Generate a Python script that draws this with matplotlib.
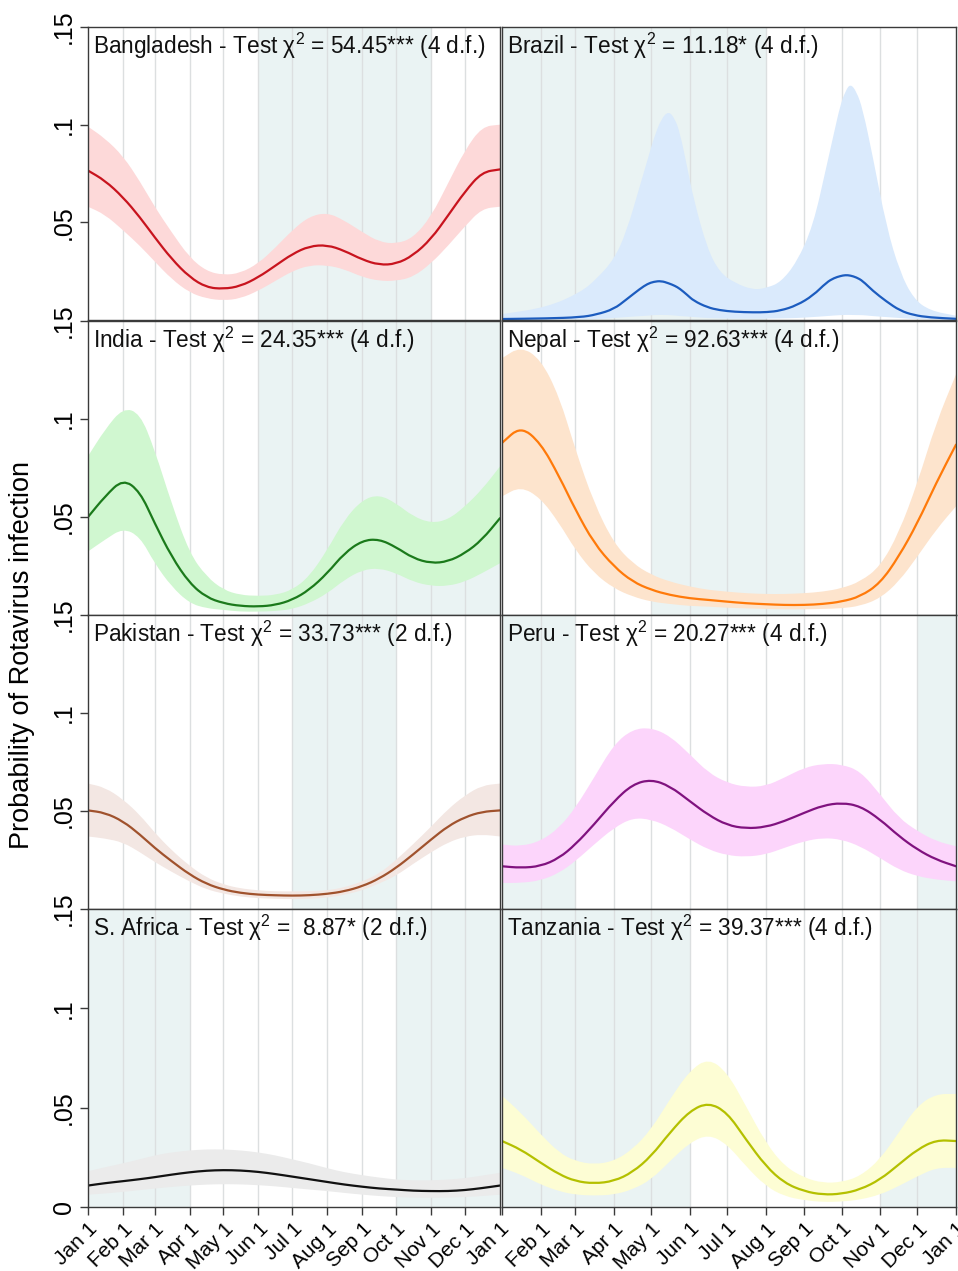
import matplotlib
matplotlib.use("Agg")
import matplotlib.pyplot as plt
from matplotlib.path import Path
from matplotlib.patches import PathPatch
import numpy as np

plt.rcParams['font.family'] = ['Liberation Sans', 'DejaVu Sans']
plt.rcParams['mathtext.fontset'] = 'custom'
plt.rcParams['mathtext.rm'] = 'Liberation Sans'
plt.rcParams['mathtext.it'] = 'Liberation Sans:italic'

# ---------------- data ----------------
month_days = [0, 31, 59, 90, 120, 151, 181, 212, 243, 273, 304, 334, 365]
month_labels = ["Jan 1", "Feb 1", "Mar 1", "Apr 1", "May 1", "Jun 1", "Jul 1",
                "Aug 1", "Sep 1", "Oct 1", "Nov 1", "Dec 1", "Jan 1"]

days = [0, 15, 31, 46, 59, 74, 90, 105, 120, 135, 151, 166, 181, 196, 212, 227,
        243, 258, 273, 288, 304, 319, 334, 349, 365]

bangladesh_mid = [.0765, .0714, .0629, .0526, .0424, .0313, .0219, .0167, .0159, .0173, .0219, .0278, .0338,
                  .0378, .0384, .0355, .0309, .0282, .0287, .0330, .0415, .0535, .0658, .0757, .0771]
bangladesh_hi = [.099, .093, .084, .071, .058, .045, .032, .025, .023, .024, .029, .037, .046, .053, .055,
                 .051, .045, .040, .039, .042, .053, .070, .087, .099, .100]
bangladesh_lo = [.058, .054, .046, .038, .030, .021, .014, .011, .010, .011, .015, .020, .025, .028, .028,
                 .026, .022, .020, .020, .022, .029, .038, .048, .057, .058]

brazil_days = [0, 36, 63, 76, 90, 100, 111, 117, 122, 128, 134, 139, 143, 149, 154, 165, 175, 187, 202,
               213, 224, 237, 250, 261, 267, 272, 276, 280, 285, 290, 298, 309, 320, 331, 344, 365]
brazil_mid = [.0005, .0008, .0014, .0028, .0056, .0105, .016, .0185, .0196, .020, .0188, .0175, .0160,
              .0128, .0099, .0065, .0050, .0042, .0039, .0040, .0048, .0075, .0125, .0193, .0215, .0225,
              .0230, .0228, .0218, .0200, .0150, .0095, .0048, .0025, .0013, .0006]
brazil_hi = [.003, .0065, .0141, .021, .031, .045, .069, .082, .093, .103, .107, .103, .096, .078, .0621,
             .0366, .0244, .019, .0154, .0165, .0193, .0296, .048, .079, .096, .110, .117, .121, .117, .108,
             .084, .048, .0244, .0108, .0048, .0022]
brazil_lo = [.0001, .0002, .0003, .0005, .001, .0015, .002, .0022, .0025, .0026, .0025, .0023, .002, .0018,
             .0015, .001, .0008, .0007, .0007, .0007, .0008, .001, .0015, .002, .0023, .0025, .0026, .0026,
             .0025, .0025, .002, .0015, .001, .0005, .0003, .0001]

india_mid = [.050, .0605, .0694, .063, .0469, .0298, .0162, .009, .006, .0046, .0043, .0051, .0077, .0128,
             .0213, .0315, .038, .0387, .0346, .029, .0264, .0273, .0315, .0383, .0494]
india_hi = [.081, .0946, .1057, .103, .0844, .057, .0315, .0196, .0128, .0102, .0097, .0102, .0128, .0196,
            .0332, .0486, .0588, .0614, .057, .0503, .0469, .0486, .0554, .064, .0758]
india_lo = [.0324, .0384, .0443, .040, .0264, .0145, .006, .0034, .0026, .0017, .0017, .002, .003, .006,
            .011, .0179, .023, .0239, .0213, .017, .0148, .0148, .017, .0213, .0264]

nepal_mid = [.0878, .0963, .0878, .0707, .0537, .0366, .0247, .017, .0128, .0102, .0085, .0077, .0068, .006,
             .0055, .0051, .0051, .0056, .0068, .0094, .0162, .0298, .0469, .0673, .0869]
nepal_hi = [.131, .137, .1306, .1116, .0844, .057, .0366, .0264, .0205, .017, .0145, .0128, .0119, .0111,
            .0107, .0107, .0111, .0119, .0136, .017, .0247, .0418, .0673, .098, .1227]
nepal_lo = [.0605, .0656, .0597, .0469, .0332, .0213, .0136, .0094, .0068, .0056, .0046, .0043, .0037, .0034,
            .0031, .0029, .0029, .0031, .0034, .0046, .0085, .017, .0298, .0435, .0554]

pakistan_mid = [.0503, .0491, .0448, .038, .0312, .0244, .0176, .0128, .0099, .0082, .0073, .007, .0068,
                .007, .0077, .009, .0116, .0155, .021, .0278, .0355, .0423, .0469, .0496, .0503]
pakistan_hi = [.064, .062, .056, .048, .039, .030, .022, .016, .0125, .0105, .0095, .009, .009, .009, .0095,
               .011, .014, .018, .025, .033, .042, .051, .058, .063, .064]
pakistan_lo = [.037, .036, .034, .029, .024, .019, .014, .010, .0078, .0063, .0055, .0052, .005, .0052,
               .0058, .0072, .0095, .013, .017, .023, .029, .034, .037, .038, .037]

peru_mid = [.0218, .021, .0218, .026, .0329, .0431, .055, .0636, .0661, .0627, .055, .0479, .0428, .0411,
            .0418, .0448, .0491, .0528, .0542, .0525, .0457, .0372, .0303, .0252, .0218]
peru_hi = [.0329, .032, .0346, .0414, .0516, .067, .084, .0917, .0925, .0883, .0789, .0695, .0644, .0622,
           .0627, .067, .0721, .0741, .0738, .0704, .0585, .0465, .0397, .0346, .032]
peru_lo = [.0133, .0133, .0145, .0184, .0244, .0329, .0414, .0465, .0457, .0418, .0355, .0303, .0274, .0266,
           .0278, .0312, .0346, .0363, .0355, .032, .026, .0201, .0167, .015, .0141]

safrica_mid = [.0108, .012, .013, .014, .015, .0163, .0175, .0183, .0186, .0184, .0177, .0166, .0153, .014,
               .0126, .0113, .0102, .0093, .0088, .0082, .008, .008, .0085, .0095, .0108]
safrica_hi = [.018, .020, .022, .024, .026, .0275, .0285, .029, .029, .0285, .0275, .026, .024, .022, .0195,
              .0175, .016, .0148, .0138, .0134, .0134, .0138, .0145, .0158, .0172]
safrica_lo = [.0062, .0068, .0076, .0085, .0093, .0101, .0108, .0113, .0115, .0114, .011, .0104, .0096,
              .0088, .008, .0071, .0062, .0055, .005, .0047, .0046, .0047, .005, .0055, .0062]

tanzania_mid = [.0332, .029, .0223, .0164, .013, .0118, .013, .0175, .0256, .0375, .0484, .0526, .0476,
                .0341, .0206, .0121, .0079, .0062, .0066, .0088, .0138, .0214, .029, .0337, .0332]
tanzania_hi = [.056, .0476, .0366, .0273, .0231, .0214, .0231, .029, .0391, .0543, .0687, .0749, .0678, .051,
               .0324, .0206, .0147, .0121, .0125, .0155, .024, .0375, .051, .0569, .0569]
tanzania_lo = [.0197, .0164, .0113, .0079, .0062, .0057, .0062, .0088, .0138, .0231, .0324, .0366, .0316,
               .0206, .0105, .0054, .0034, .0025, .0027, .0037, .0062, .0105, .0155, .0197, .0197]

countries = ["Bangladesh", "Brazil", "India", "Nepal", "Pakistan", "Peru", "S. Africa", "Tanzania"]
chi2_text = ["54.45***", "11.18*", "24.35***", "92.63***", "33.73***", "20.27***", " 8.87*", "39.37***"]
dof = [4, 4, 4, 4, 2, 4, 2, 4]

# shaded seasons (start day, end day)
seasons = [
    [(151, 304)],
    [(0, 212)],
    [(151, 365)],
    [(120, 243)],
    [(181, 273)],
    [(0, 59), (334, 365)],
    [(0, 90), (273, 365)],
    [(0, 151), (304, 365)],
]

series = [
    (days, bangladesh_mid, bangladesh_lo, bangladesh_hi),
    (brazil_days, brazil_mid, brazil_lo, brazil_hi),
    (days, india_mid, india_lo, india_hi),
    (days, nepal_mid, nepal_lo, nepal_hi),
    (days, pakistan_mid, pakistan_lo, pakistan_hi),
    (days, peru_mid, peru_lo, peru_hi),
    (days, safrica_mid, safrica_lo, safrica_hi),
    (days, tanzania_mid, tanzania_lo, tanzania_hi),
]

line_colors = ["#c8141e", "#1c5cbf", "#1b7a1b", "#ff7a0a", "#a0522d", "#80127f", "#111111", "#b4c000"]
band_colors = ["#fdd9d9", "#daeafc", "#d0f7d0", "#fde4cd", "#f3e7e3", "#fcd5fb", "#ebebeb", "#fdfdd4"]
season_color = "#eaf3f3"
grid_color = "#dcdfe0"


def smooth_segments(x, y):
    """Quadratic-Bezier rendering of a polyline (data points as control points)."""
    p = np.column_stack([x, y]).astype(float)
    verts = [p[0], (p[0] + p[1]) / 2]
    codes = [Path.MOVETO, Path.LINETO]
    for k in range(1, len(p) - 1):
        verts += [p[k], (p[k] + p[k + 1]) / 2]
        codes += [Path.CURVE3, Path.CURVE3]
    verts.append(p[-1])
    codes.append(Path.LINETO)
    return verts, codes


# ---------------- layout ----------------
W, H = 958, 1271
fig = plt.figure(figsize=(W / 100, H / 100), dpi=100)

col_x = [(88, 500), (502, 956)]
row_y = [(27, 320), (321, 615), (615, 909), (909, 1207)]

for i in range(8):
    r, c = divmod(i, 2)
    x0, x1 = col_x[c]
    y0, y1 = row_y[r]
    ax = fig.add_axes([x0 / W, 1 - y1 / H, (x1 - x0) / W, (y1 - y0) / H])
    ax.set_xlim(0, 365)
    ax.set_ylim(0, 0.15)

    for s0, s1 in seasons[i]:
        ax.axvspan(s0, s1, color=season_color, lw=0, zorder=0)
    for d in month_days[1:-1]:
        ax.axvline(d, color=grid_color, lw=1.0, zorder=0.5)

    dx, mid, lo, hi = series[i]
    vu, cu = smooth_segments(dx, hi)
    vl, cl = smooth_segments(dx[::-1], lo[::-1])
    cl = [Path.LINETO] + cl[1:]
    band = PathPatch(Path(vu + vl + [vu[0]], cu + cl + [Path.CLOSEPOLY]),
                     facecolor=band_colors[i], edgecolor='none', lw=0, zorder=1)
    ax.add_patch(band)
    vm, cm = smooth_segments(dx, mid)
    ax.add_patch(PathPatch(Path(vm, cm), facecolor='none', edgecolor=line_colors[i],
                           lw=1.6, zorder=2, capstyle='round', joinstyle='round'))

    title = f"{countries[i]} - Test χ$^{{2}}$ = {chi2_text[i]} ({dof[i]} d.f.)"
    ax.text(0.011, 0.987, title, transform=ax.transAxes, ha='left', va='top',
            fontsize=16.3, color='#111111', zorder=5)

    for sp in ax.spines.values():
        sp.set_color('#3a3a3a')
        sp.set_linewidth(1.0)
        sp.set_zorder(6)

    if c == 0:
        if r == 3:
            yt = [0, 0.05, 0.1, 0.15]
            yl = ["0", ".05", ".1", ".15"]
        else:
            yt = [0.05, 0.1, 0.15]
            yl = [".05", ".1", ".15"]
        ax.set_yticks(yt)
        ax.set_yticklabels(yl, rotation=90, va='center', fontsize=18)
        ax.tick_params(axis='y', length=6, width=1.0, color='#3a3a3a', pad=3)
    else:
        ax.set_yticks([])

    if r == 3:
        ax.set_xticks(month_days)
        labs = list(month_labels)
        if c == 1:
            labs[0] = ""
        ax.set_xticklabels(labs, rotation=45, ha='right', va='top',
                           rotation_mode='anchor', fontsize=15)
        ax.tick_params(axis='x', length=6, width=1.0, color='#3a3a3a', pad=3)
    else:
        ax.set_xticks([])

fig.text(22 / W, 1 - 655 / H, "Probability of Rotavirus infection", rotation=90,
         ha='center', va='center', fontsize=19.5)

fig.savefig("out.png", dpi=100, facecolor='white')
